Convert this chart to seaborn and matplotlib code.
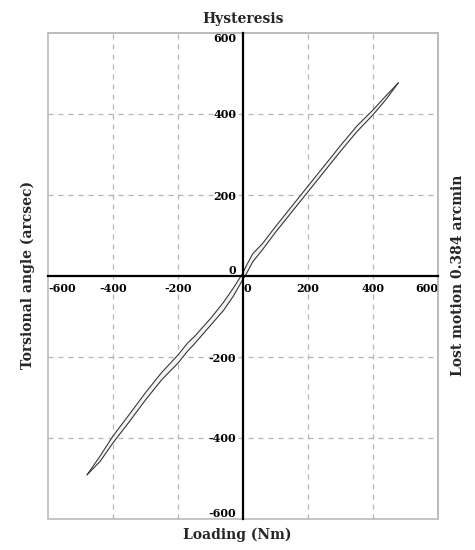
import pandas as pd
import matplotlib.pyplot as plt
import seaborn as sns
from matplotlib.patches import Rectangle

# hysteresis loop (Nm vs arcsec)
loading = [-480, -440, -400, -350, -300, -250, -200, -170, -150, -100, -60, -30, -10,
           0, 10, 30, 60, 100, 150, 200, 250, 300, 350, 400, 440, 478]
angle_upper = [-491, -445, -395, -342, -288, -238, -195, -165, -150, -105, -65, -30, -5,
               8, 25, 55, 80, 122, 172, 222, 272, 322, 370, 410, 445, 477]
angle_lower = [-491, -458, -412, -360, -306, -256, -215, -185, -168, -122, -85, -50, -22,
               -8, 5, 35, 65, 108, 158, 208, 258, 308, 356, 398, 436, 477]

ticks = [-600, -400, -200, 0, 200, 400, 600]
grid_vals = [-400, -200, 200, 400]

df = pd.concat([
    pd.DataFrame({"branch": "up", "Loading": loading, "Angle": angle_upper}),
    pd.DataFrame({"branch": "down", "Loading": loading, "Angle": angle_lower}),
], ignore_index=True)

sns.set_style("white")
plt.rcParams["font.family"] = ["DejaVu Serif"]
plt.rcParams["axes.unicode_minus"] = False

fig, ax = plt.subplots(figsize=(4.75, 5.5), dpi=100)
fig.subplots_adjust(left=48 / 475, right=438 / 475, top=1 - 33 / 550, bottom=1 - 519 / 550)

# dashed grid
for v in grid_vals:
    ax.axvline(v, color="#b5b5b5", ls=(0, (4, 4)), lw=0.9, zorder=0)
    ax.axhline(v, color="#b5b5b5", ls=(0, (4, 4)), lw=0.9, zorder=0)

ax.fill_between(loading, angle_lower, angle_upper, color="#f2f2f2", lw=0, zorder=1)
sns.lineplot(data=df, x="Loading", y="Angle", units="branch", estimator=None,
             sort=False, color="#2e2e2e", lw=0.75, ax=ax, zorder=2)

ax.set_xlim(-600, 600)
ax.set_ylim(-600, 600)

# axes through the origin, grey frame around
ax.spines["left"].set_position(("data", 0))
ax.spines["bottom"].set_position(("data", 0))
for s in ["left", "bottom"]:
    ax.spines[s].set_color("black")
    ax.spines[s].set_linewidth(1.6)
    ax.spines[s].set_zorder(3)
for s in ["top", "right"]:
    ax.spines[s].set_color("#bbbbbb")
    ax.spines[s].set_linewidth(1.2)
ax.add_patch(Rectangle((0, 0), 1, 1, transform=ax.transAxes, fill=False,
                       ec="#bbbbbb", lw=1.2, clip_on=False, zorder=0))

ax.set_xticks(ticks)
ax.set_yticks(ticks)
ax.tick_params(direction="inout", length=6, width=1, labelsize=8, colors="black", pad=2)
for lbl in ax.get_xticklabels() + ax.get_yticklabels():
    lbl.set_fontweight("bold")

xl = ax.get_xticklabels()
xl[0].set_ha("left")
xl[-1].set_ha("right")
xl[3].set_ha("left")
yl = ax.get_yticklabels()
yl[0].set_va("bottom")
yl[-1].set_va("top")
yl[3].set_va("bottom")

ax.set_xlabel("")
ax.set_ylabel("")
ax.set_title("Hysteresis", fontsize=10, fontweight="bold", pad=7)
fig.text(0.5, 1 - 535 / 550, "Loading (Nm)", ha="center", va="center",
         fontsize=10, fontweight="bold")
fig.text(28 / 475, 0.5, "Torsional angle (arcsec)", ha="center", va="center",
         rotation=90, fontsize=10, fontweight="bold")
fig.text(458 / 475, 0.5, "Lost motion 0.384 arcmin", ha="center", va="center",
         rotation=90, fontsize=10, fontweight="bold")

plt.savefig("out.png", dpi=100)
plt.close()
